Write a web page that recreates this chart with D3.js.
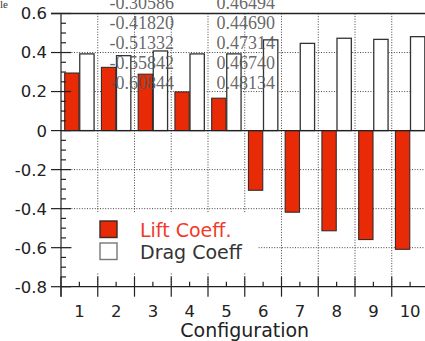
<!DOCTYPE html>
<html>
<head>
<meta charset="utf-8">
<script src="https://cdn.jsdelivr.net/npm/d3@7"></script>
<style>
  body { margin: 0; background: #fff; }
  svg { display: block; }
</style>
</head>
<body>
<svg id="chart" width="425" height="341"></svg>
<script>
// values
let categories = ["1", "2", "3", "4", "5", "6", "7", "8", "9", "10"];
let liftCoeff = [0.295, 0.324, 0.289, 0.198, 0.166, -0.30586, -0.41820, -0.51332, -0.55842, -0.60844];
let dragCoeff = [0.393, 0.384, 0.408, 0.393, 0.393, 0.46494, 0.44690, 0.47314, 0.46740, 0.48134];
let yTicks = [0.6, 0.4, 0.2, 0, -0.2, -0.4, -0.6, -0.8];
let yTickLabels = ["0.6", "0.4", "0.2", "0", "-0.2", "-0.4", "-0.6", "-0.8"];
let seriesNames = ["Lift Coeff.", "Drag Coeff"];

let svg = d3.select("#chart"),
    width = +svg.attr("width"),
    height = +svg.attr("height");

let plotL = 61, plotR = 428.5, plotT = 13.5, plotB = 286.7;

let x = d3.scaleBand()
    .domain(categories)
    .range([plotL, plotR])
    .paddingInner(0.2)
    .paddingOuter(0.1);

let x1 = d3.scaleBand()
    .domain(["lift", "drag"])
    .range([0, x.bandwidth()])
    .paddingInner(0.05);

let y = d3.scaleLinear()
    .domain([-0.8, 0.6])
    .range([plotB, plotT]);

let boundary = function(c) { return x(c) - x.step() * x.paddingOuter(); };

// grid
let grid = svg.append("g").attr("stroke", "#444").attr("stroke-width", 1).attr("stroke-dasharray", "1,1.6");
grid.selectAll("line.h")
  .data(yTicks.filter(function(d) { return d !== 0 && d !== 0.6 && d !== -0.8; }))
  .enter().append("line")
    .attr("x1", plotL).attr("x2", width)
    .attr("y1", function(d) { return y(d); }).attr("y2", function(d) { return y(d); });
grid.selectAll("line.v")
  .data(categories.slice(1))
  .enter().append("line")
    .attr("x1", boundary).attr("x2", boundary)
    .attr("y1", plotT).attr("y2", plotB);

// legend background hides the grid
svg.append("rect")
    .attr("x", 72).attr("y", 213).attr("width", 186).attr("height", 59)
    .attr("fill", "#fff");

// bars
let groups = svg.selectAll("g.cat")
  .data(categories)
  .enter().append("g")
    .attr("transform", function(d) { return "translate(" + x(d) + ",0)"; });

groups.append("rect")
    .attr("x", x1("lift"))
    .attr("width", x1.bandwidth())
    .attr("y", function(d, i) { return y(Math.max(0, liftCoeff[i])); })
    .attr("height", function(d, i) { return Math.abs(y(liftCoeff[i]) - y(0)); })
    .attr("fill", "#e82a06")
    .attr("stroke", "#3a2a28")
    .attr("stroke-width", 1.1);

groups.append("rect")
    .attr("x", x1("drag"))
    .attr("width", x1.bandwidth())
    .attr("y", function(d, i) { return y(Math.max(0, dragCoeff[i])); })
    .attr("height", function(d, i) { return Math.abs(y(dragCoeff[i]) - y(0)); })
    .attr("fill", "#fff")
    .attr("stroke", "#333")
    .attr("stroke-width", 1.3);

// zero line and top frame
svg.append("line")
    .attr("x1", plotL).attr("x2", width)
    .attr("y1", y(0)).attr("y2", y(0))
    .attr("stroke", "#222").attr("stroke-width", 1.3);
svg.append("line")
    .attr("x1", plotL - 10).attr("x2", width)
    .attr("y1", y(0.6)).attr("y2", y(0.6))
    .attr("stroke", "#222").attr("stroke-width", 1.3);

// y axis
let axisG = svg.append("g").attr("stroke", "#222").attr("stroke-width", 1.2);
axisG.append("line")
    .attr("x1", plotL).attr("x2", plotL)
    .attr("y1", plotT).attr("y2", plotB + 10);
axisG.selectAll("line.ymaj")
  .data(yTicks)
  .enter().append("line")
    .attr("x1", plotL - 10).attr("x2", plotL + 10)
    .attr("y1", function(d) { return y(d); }).attr("y2", function(d) { return y(d); });
axisG.selectAll("line.ymin")
  .data(d3.range(-0.75, 0.6, 0.05).filter(function(d) { return Math.abs(Math.round(d * 5) - d * 5) > 0.01; }))
  .enter().append("line")
    .attr("x1", plotL).attr("x2", plotL + 5)
    .attr("y1", function(d) { return y(d); }).attr("y2", function(d) { return y(d); });

// x axis
axisG.append("line")
    .attr("x1", plotL).attr("x2", width)
    .attr("y1", plotB).attr("y2", plotB);
axisG.selectAll("line.xmaj")
  .data(categories)
  .enter().append("line")
    .attr("x1", boundary).attr("x2", boundary)
    .attr("y1", plotB - 10).attr("y2", plotB + 10);
axisG.selectAll("line.xmin")
  .data(categories)
  .enter().append("line")
    .attr("x1", function(d) { return x(d) + x.bandwidth() / 2; })
    .attr("x2", function(d) { return x(d) + x.bandwidth() / 2; })
    .attr("y1", plotB - 5).attr("y2", plotB);

// tick labels
svg.selectAll("text.ylab")
  .data(yTicks)
  .enter().append("text")
    .attr("x", 47)
    .attr("y", function(d) { return y(d); })
    .attr("dy", "0.36em")
    .attr("text-anchor", "end")
    .attr("font-family", "DejaVu Sans")
    .attr("font-size", 16.5)
    .attr("fill", "#222")
    .text(function(d, i) { return yTickLabels[i]; });

svg.selectAll("text.xlab")
  .data(categories)
  .enter().append("text")
    .attr("x", function(d) { return x(d) + x.bandwidth() / 2; })
    .attr("y", 316.5)
    .attr("text-anchor", "middle")
    .attr("font-family", "DejaVu Sans")
    .attr("font-size", 16.5)
    .attr("fill", "#222")
    .text(function(d) { return d; });

svg.append("text")
    .attr("x", (plotL + plotR) / 2)
    .attr("y", 336.5)
    .attr("text-anchor", "middle")
    .attr("font-family", "DejaVu Sans")
    .attr("font-size", 19)
    .attr("fill", "#222")
    .text("Configuration");

// legend
let legendColors = ["#e82a06", "#fff"];
let legendText = ["#f23a2a", "#333"];
let legend = svg.selectAll("g.legend")
  .data(seriesNames)
  .enter().append("g")
    .attr("transform", function(d, i) { return "translate(100," + (221 + i * 22) + ")"; });
legend.append("rect")
    .attr("width", 17).attr("height", 16.5)
    .attr("fill", function(d, i) { return legendColors[i]; })
    .attr("stroke", function(d, i) { return i === 0 ? "#3a2a28" : "#777"; })
    .attr("stroke-width", 1.4);
legend.append("text")
    .attr("x", 40)
    .attr("y", 16)
    .attr("font-family", "DejaVu Sans")
    .attr("font-size", 19)
    .attr("fill", function(d, i) { return legendText[i]; })
    .text(function(d) { return d; });

// table text overlaid on the chart (plain hyphen as minus)
let fmt = d3.formatLocale({ decimal: ".", thousands: ",", grouping: [3], currency: ["", ""], minus: "-" }).format(".5f");
let tableRows = d3.range(5, 10);
svg.selectAll("text.tl")
  .data(tableRows)
  .enter().append("text")
    .attr("x", 109.5)
    .attr("y", function(d, i) { return 9 + i * 20; })
    .attr("font-family", "Liberation Serif")
    .attr("font-size", 18)
    .attr("fill", "#555")
    .attr("fill-opacity", 0.9)
    .text(function(d) { return fmt(liftCoeff[d]); });
svg.selectAll("text.td")
  .data(tableRows)
  .enter().append("text")
    .attr("x", 216.5)
    .attr("y", function(d, i) { return 9 + i * 20; })
    .attr("font-family", "Liberation Serif")
    .attr("font-size", 18)
    .attr("fill", "#555")
    .attr("fill-opacity", 0.9)
    .text(function(d) { return fmt(dragCoeff[d]); });

svg.append("text")
    .attr("x", 0).attr("y", 8)
    .attr("font-family", "Liberation Serif")
    .attr("font-size", 11)
    .attr("fill", "#333")
    .text("le");
</script>
</body>
</html>
